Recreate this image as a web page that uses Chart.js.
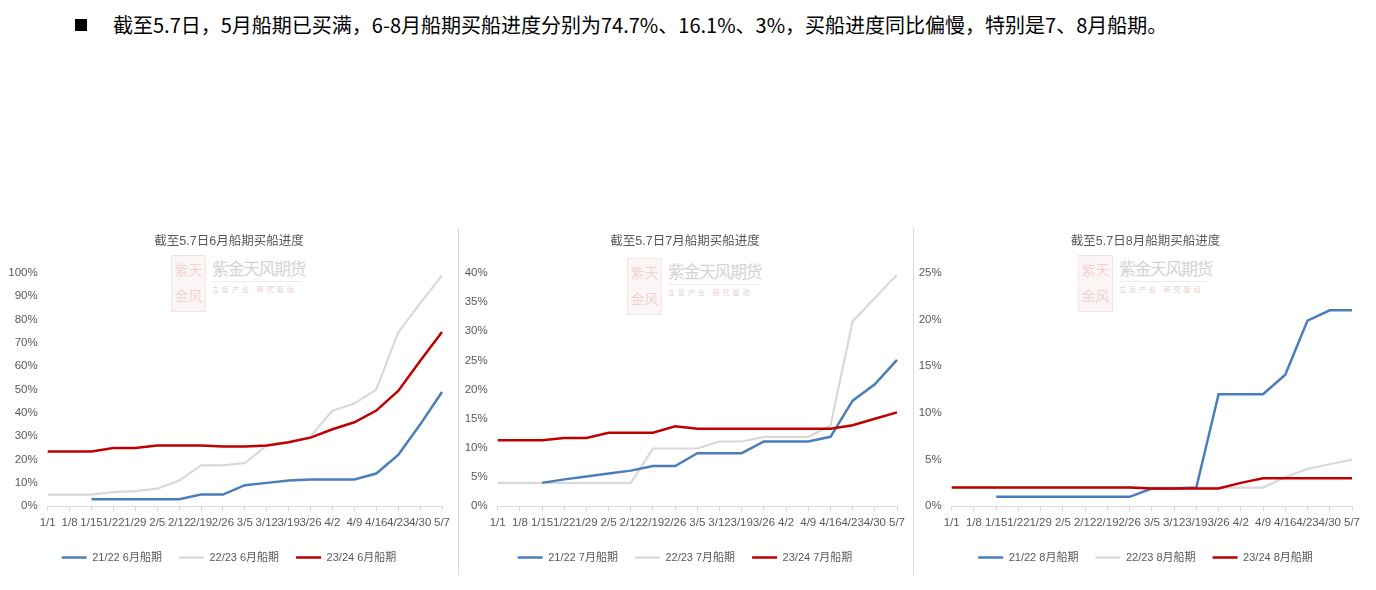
<!DOCTYPE html>
<html>
<head>
<meta charset="utf-8">
<script src="https://cdn.jsdelivr.net/npm/chart.js@4.4.0/dist/chart.umd.min.js"></script>
<style>
body { margin:0; background:#fff; width:1376px; height:590px; overflow:hidden; position:relative; font-family:"Noto Sans CJK SC", sans-serif; }
.head { position:absolute; left:75px; top:10px; font-size:20px; color:#000; white-space:nowrap; }
.head .sq { display:inline-block; width:12px; height:12px; background:#000; margin-right:26px; vertical-align:2px; }
.panel { position:absolute; top:228px; height:345px; }
.panel canvas { position:relative; z-index:2; }
.sep { position:absolute; top:228px; width:1px; height:347px; background:#d9d9d9; }
.wm { position:absolute; z-index:1; }
.seal { position:absolute; width:33px; height:55px; background:rgba(190,90,90,0.06); border:1px solid rgba(190,90,90,0.10); color:rgba(190,60,60,0.20); font-size:14px; line-height:26px; text-align:center; font-family:"Noto Sans CJK TC"; }
.wmt { position:absolute; left:41px; top:0; font-size:17px; color:#d4d4d4; letter-spacing:-1.5px; white-space:nowrap; }
.wml { position:absolute; left:41px; top:26px; width:90px; height:1px; background:#ececec; }
.wms { position:absolute; left:41px; top:29px; font-size:7px; color:#e4cccc; letter-spacing:3px; white-space:nowrap; }
</style>
</head>
<body>
<div class="head"><span class="sq"></span>截至5.7日，5月船期已买满，6-8月船期买船进度分别为74.7%、16.1%、3%，买船进度同比偏慢，特别是7、8月船期。</div>

<div class="wm" style="left:171px;top:255px;"><div class="seal">紫天<br>金风</div><div class="wmt">紫金天风期货</div><div class="wml"></div><div class="wms">立足产业 研究驱动</div></div>
<div class="wm" style="left:627px;top:258px;"><div class="seal">紫天<br>金风</div><div class="wmt">紫金天风期货</div><div class="wml"></div><div class="wms">立足产业 研究驱动</div></div>
<div class="wm" style="left:1078px;top:255px;"><div class="seal">紫天<br>金风</div><div class="wmt">紫金天风期货</div><div class="wml"></div><div class="wms">立足产业 研究驱动</div></div>

<div class="panel" style="left:0;width:458px;"><canvas id="c1" width="458" height="345"></canvas></div>
<div class="sep" style="left:458px;"></div>
<div class="panel" style="left:460px;width:450px;"><canvas id="c2" width="450" height="345"></canvas></div>
<div class="sep" style="left:913px;"></div>
<div class="panel" style="left:915px;width:461px;"><canvas id="c3" width="461" height="345"></canvas></div>

<script>
var categories = ["1/1","1/8","1/15","1/22","1/29","2/5","2/12","2/19","2/26","3/5","3/12","3/19","3/26","4/2","4/9","4/16","4/23","4/30","5/7"];

// 6月船期 (%)
var jun2122 = [null,null,3,3,3,3,3,5,5,9,10,11,11.5,11.5,11.5,14,22,35,49];
var jun2223 = [5,5,5,6,6.5,7.5,11,17.5,17.5,18.5,26,27.5,30,41,44,50,74.5,87,99];
var jun2324 = [23.5,23.5,23.5,25,25,26,26,26,25.6,25.6,26,27.4,29.4,33,36,41,49.4,62.3,74.7];

// 7月船期 (%)
var jul2122 = [null,null,4,4.6,5.1,5.6,6.1,6.9,6.9,9.1,9.1,9.1,11.1,11.1,11.1,11.9,18.1,20.9,25.1];
var jul2223 = [4,4,4,4,4,4,4,9.9,9.9,9.9,11.1,11.1,11.9,11.9,11.9,13.8,31.7,35.7,39.7];
var jul2324 = [11.3,11.3,11.3,11.7,11.7,12.6,12.6,12.6,13.7,13.3,13.3,13.3,13.3,13.3,13.3,13.3,13.9,15,16.1];

// 8月船期 (%)
var aug2122 = [null,null,1,1,1,1,1,1,1,1.9,1.9,2,12,12,12,14.1,19.9,21,21];
var aug2223 = [2,2,2,2,2,2,2,2,2,2,2,2,2,2,2,3.1,4,4.5,5];
var aug2324 = [2,2,2,2,2,2,2,2,2,1.9,1.9,1.9,1.9,2.5,3,3,3,3,3];

var txt = "#595959";
var fam = "'Liberation Sans', 'Noto Sans CJK SC', sans-serif";

function makeChart(id, month, s1, s2, s3, yMax, step, axisW, padR) {
	var ctx = document.getElementById(id).getContext('2d');
	return new Chart(ctx, {
		type : 'line',
		data : {
			labels : categories,
			datasets : [ {
				label : "21/22 " + month + "船期",
				data : s1,
				borderColor : "#4a7ebb",
				backgroundColor : "#4a7ebb",
				borderWidth : 2.5,
				order : 1
			}, {
				label : "22/23 " + month + "船期",
				data : s2,
				borderColor : "#d9d9d9",
				backgroundColor : "#d9d9d9",
				borderWidth : 2.2,
				order : 2
			}, {
				label : "23/24 " + month + "船期",
				data : s3,
				borderColor : "#c00000",
				backgroundColor : "#c00000",
				borderWidth : 2.5,
				order : 0
			} ]
		},
		options : {
			responsive : false,
			animation : false,
			layout : { padding : 0 },
			elements : { point : { radius : 0 }, line : { tension : 0 } },
			plugins : {
				title : {
					display : true,
					text : "截至5.7日" + month + "船期买船进度",
					color : txt,
					font : { family : fam, size : 12.5, weight : 'normal' },
					padding : { top : 6, bottom : 24 }
				},
				legend : {
					position : 'bottom',
					labels : {
						usePointStyle : true,
						pointStyle : 'line',
						pointStyleWidth : 25,
						boxHeight : 11,
						padding : 17,
						color : txt,
						font : { family : fam, size : 11 },
						sort : function(a, b) { return a.datasetIndex - b.datasetIndex; }
					}
				},
				tooltip : { enabled : false }
			},
			scales : {
				x : {
					offset : false,
					grid : { drawOnChartArea : false, color : "#d9d9d9", tickLength : 5 },
					border : { color : "#d9d9d9" },
					afterFit : function(scale) { scale.paddingRight = padR; },
					ticks : { autoSkip : false, maxRotation : 0, minRotation : 0, padding : 5, color : txt, font : { family : fam, size : 11.5 } }
				},
				y : {
					min : 0,
					max : yMax,
					grid : { display : false, drawTicks : false },
					border : { display : false },
					afterFit : function(scale) { scale.width = axisW; },
					ticks : { stepSize : step, padding : 10, color : txt, font : { family : fam, size : 11.5 },
						callback : function(v) { return v + "%"; } }
				}
			}
		}
	});
}

makeChart('c1', "6月", jun2122, jun2223, jun2324, 100, 10, 47.7, 16);
makeChart('c2', "7月", jul2122, jul2223, jul2324, 40, 5, 37.7, 13);
makeChart('c3', "8月", aug2122, aug2223, aug2324, 25, 5, 36.7, 24);
</script>
</body>
</html>
